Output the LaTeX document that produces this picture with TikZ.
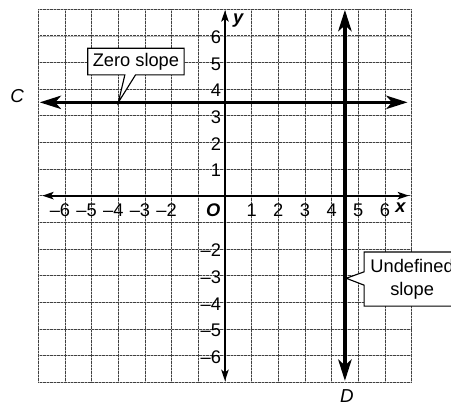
\documentclass[tikz,border=0pt]{standalone}
\usepackage{fontspec}
\setmainfont{Liberation Sans}
\usetikzlibrary{arrows.meta,shapes.callouts}
\tikzset{
  gridfine/.style={gray!55, line width=0.45pt},
  griddot/.style={black!75, line width=0.5pt, densely dotted},
  axis/.style={line width=1.9pt, {Stealth[length=0.42cm,width=0.28cm,inset=0.1cm]}-{Stealth[length=0.42cm,width=0.28cm,inset=0.1cm]}},
  bigline/.style={line width=3.4pt, {Stealth[length=0.8cm,width=0.5cm,inset=0.22cm]}-{Stealth[length=0.8cm,width=0.5cm,inset=0.22cm]}},
  lbl/.style={font=\fontsize{19.5}{21}\selectfont, inner sep=0pt},
  callbox/.style={rectangle callout, draw=black, line width=1.2pt, fill=white, inner sep=0pt,
    font=\fontsize{19.5}{24}\selectfont, align=center},
  axname/.style={font=\fontsize{19.5}{21}\selectfont\bfseries\itshape, inner sep=0pt},
  linename/.style={font=\fontsize{20}{22}\selectfont\itshape, inner sep=0pt}
}
\begin{document}
\begin{tikzpicture}
\clip (-8.44,-7.94) rectangle (8.48,7.34);
\fill[white] (-8.44,-7.94) rectangle (8.48,7.34);
% grid
\draw[gridfine] (-7,-7) grid (7,7);
\draw[griddot] (-7,-7) grid (7,7);
% axes
\coordinate (xl) at (-6.85,0);
\coordinate (xr) at (6.9,0);
\coordinate (yt) at (0,6.95);
\coordinate (yb) at (0,-6.95);
\draw[axis] (xl) -- (xr);
\draw[axis] (yb) -- (yt);
% tick labels
\foreach \k in {1,...,6} {
  \node[lbl] (xt\k) at (\k,-0.56) {\k};
  \node[lbl, anchor=east] (yt\k) at (-0.14,\k-0.06) {\k};
}
\foreach \k in {2,...,6} {
  \node[lbl] (xn\k) at (-\k,-0.56) {\llap{--}\k};
  \node[lbl, anchor=east] (yn\k) at (-0.14,-\k-0.06) {--\k};
}
\node[axname] (orig) at (-0.44,-0.55) {O};
\node[axname] (xname) at (6.58,-0.45) {x};
\node[axname] (yname) at (0.5,6.58) {y};
% lines C and D
\coordinate (cl) at (-6.95,3.5);
\coordinate (cr) at (6.85,3.5);
\coordinate (dt) at (4.5,6.97);
\coordinate (db) at (4.5,-6.95);
\draw[bigline] (cl) -- (cr);
\draw[bigline, line width=4pt] (db) -- (dt);
\node[linename] (cname) at (-7.8,3.72) {C};
\node[linename] (dname) at (4.57,-7.52) {D};
% callouts
\coordinate (zp) at (-4,3.5);
\coordinate (up) at (4.55,-3.1);
\node[callbox, minimum width=3.62cm, minimum height=1.0cm,
  callout absolute pointer={(zp)}, callout pointer width=0.4cm] (zero) at (-3.34,5.03) {Zero slope};
\node[callbox, minimum width=3.6cm, minimum height=2.03cm,
  callout absolute pointer={(up)}, callout pointer width=0.5cm] (undef) at (7.02,-3.13) {Undefined\\slope};
\end{tikzpicture}
\end{document}
